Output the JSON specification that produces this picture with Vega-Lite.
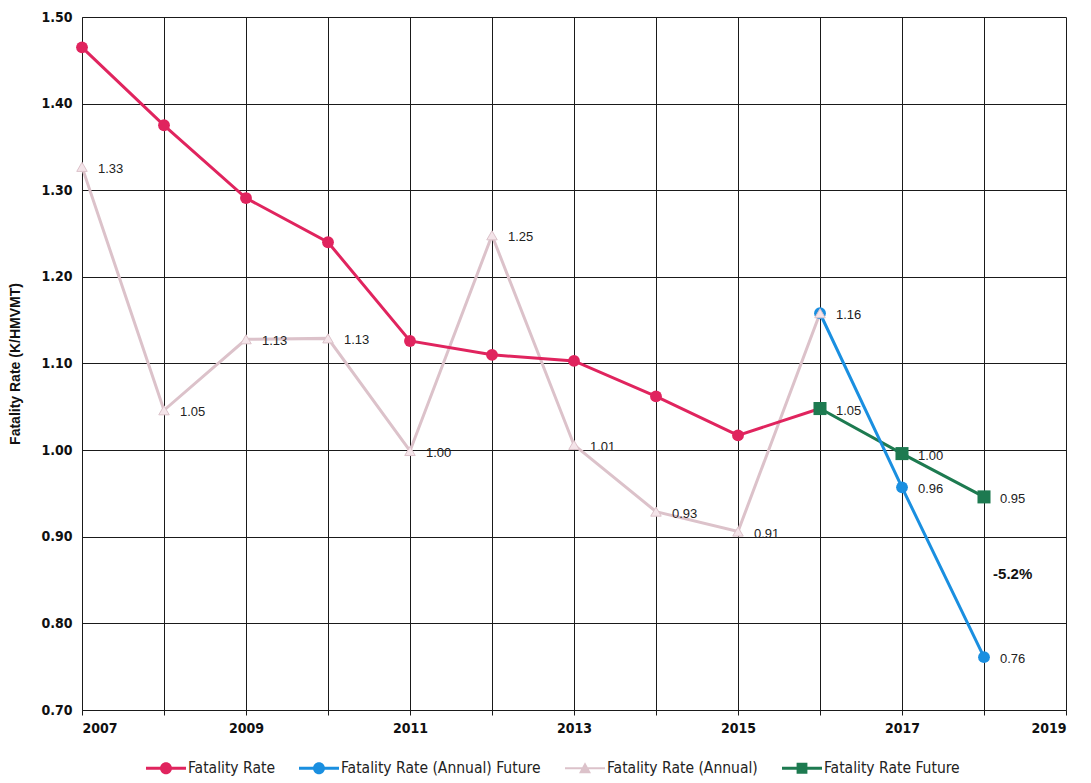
{
  "$schema": "https://vega.github.io/schema/vega-lite/v6.json",
  "width": 984,
  "height": 693,
  "autosize": {"type": "none"},
  "padding": {"left": 82, "top": 17, "right": 25, "bottom": 73},
  "background": "white",
  "config": {
    "view": {"stroke": null},
    "font": "Liberation Sans",
    "axis": {
      "gridColor": "#1a1a1a",
      "gridOpacity": 1,
      "gridWidth": 1,
      "domainColor": "#1a1a1a",
      "tickColor": "#1a1a1a",
      "labelColor": "#111111",
      "labelFont": "DejaVu Sans Condensed, Liberation Sans",
      "labelFontSize": 14,
      "labelFontWeight": "bold"
    }
  },
  "data": {
    "values": [
      {"series": "Fatality Rate", "year": 2007, "value": 1.465},
      {"series": "Fatality Rate", "year": 2008, "value": 1.375},
      {"series": "Fatality Rate", "year": 2009, "value": 1.291},
      {"series": "Fatality Rate", "year": 2010, "value": 1.240},
      {"series": "Fatality Rate", "year": 2011, "value": 1.126},
      {"series": "Fatality Rate", "year": 2012, "value": 1.110},
      {"series": "Fatality Rate", "year": 2013, "value": 1.103},
      {"series": "Fatality Rate", "year": 2014, "value": 1.062},
      {"series": "Fatality Rate", "year": 2015, "value": 1.017},
      {"series": "Fatality Rate", "year": 2016, "value": 1.048},
      {"series": "Fatality Rate (Annual)", "year": 2007, "value": 1.327},
      {"series": "Fatality Rate (Annual)", "year": 2008, "value": 1.046},
      {"series": "Fatality Rate (Annual)", "year": 2009, "value": 1.128},
      {"series": "Fatality Rate (Annual)", "year": 2010, "value": 1.129},
      {"series": "Fatality Rate (Annual)", "year": 2011, "value": 0.999},
      {"series": "Fatality Rate (Annual)", "year": 2012, "value": 1.248},
      {"series": "Fatality Rate (Annual)", "year": 2013, "value": 1.006},
      {"series": "Fatality Rate (Annual)", "year": 2014, "value": 0.929},
      {"series": "Fatality Rate (Annual)", "year": 2015, "value": 0.906},
      {"series": "Fatality Rate (Annual)", "year": 2016, "value": 1.158},
      {"series": "Fatality Rate Future", "year": 2016, "value": 1.048},
      {"series": "Fatality Rate Future", "year": 2017, "value": 0.996},
      {"series": "Fatality Rate Future", "year": 2018, "value": 0.946},
      {"series": "Fatality Rate (Annual) Future", "year": 2016, "value": 1.158},
      {"series": "Fatality Rate (Annual) Future", "year": 2017, "value": 0.957},
      {"series": "Fatality Rate (Annual) Future", "year": 2018, "value": 0.761}
    ]
  },
  "encoding": {
    "x": {
      "field": "year",
      "type": "quantitative",
      "scale": {"domain": [2007, 2019], "nice": false, "zero": false},
      "axis": {
        "values": [2007, 2008, 2009, 2010, 2011, 2012, 2013, 2014, 2015, 2016, 2017, 2018, 2019],
        "format": "d",
        "labelExpr": "datum.value % 2 == 1 ? datum.label : ''",
        "title": null,
        "grid": true,
        "tickSize": 5,
        "labelPadding": 6
      }
    },
    "y": {
      "field": "value",
      "type": "quantitative",
      "scale": {"domain": [0.7, 1.5], "nice": false, "zero": false},
      "axis": {
        "values": [0.7, 0.8, 0.9, 1.0, 1.1, 1.2, 1.3, 1.4, 1.5],
        "format": ".2f",
        "title": "Fatality Rate (K/HMVMT)",
        "titleFont": "Liberation Sans",
        "titleFontSize": 14,
        "titleFontWeight": "bold",
        "titleColor": "#111111",
        "titlePadding": 18,
        "grid": true,
        "ticks": false,
        "labelPadding": 10
      }
    },
    "color": {
      "field": "series",
      "type": "nominal",
      "scale": {
        "domain": ["Fatality Rate", "Fatality Rate (Annual) Future", "Fatality Rate (Annual)", "Fatality Rate Future"],
        "range": ["#e0245e", "#1a8fe0", "#dcc2ca", "#1d7a50"]
      },
      "legend": {
        "title": null,
        "orient": "none",
        "legendX": 64,
        "legendY": 731,
        "direction": "horizontal",
        "labelFont": "DejaVu Sans Condensed, Liberation Sans",
        "labelFontSize": 15.5,
        "labelColor": "#222222",
        "labelLimit": 0,
        "symbolSize": 1600,
        "columnPadding": 24,
        "labelOffset": 2,
        "encode": {"symbols": {"update": {"opacity": {"value": 1}, "strokeWidth": {"value": 0}}}}
      }
    }
  },
  "layer": [
    {
      "transform": [{"filter": "datum.series == 'Fatality Rate (Annual)'"}],
      "mark": {"type": "line", "strokeWidth": 3}
    },
    {
      "transform": [{"filter": "datum.series == 'Fatality Rate'"}],
      "mark": {"type": "line", "strokeWidth": 3}
    },
    {
      "transform": [{"filter": "datum.series == 'Fatality Rate Future'"}],
      "mark": {"type": "line", "strokeWidth": 3}
    },
    {
      "transform": [{"filter": "datum.series == 'Fatality Rate (Annual) Future'"}],
      "mark": {"type": "line", "strokeWidth": 3}
    },
    {
      "transform": [{"filter": "datum.series == 'Fatality Rate' || datum.series == 'Fatality Rate (Annual) Future'"}],
      "mark": {"type": "point", "shape": "circle", "filled": true, "size": 140, "opacity": 1}
    },
    {
      "transform": [{"filter": "datum.series == 'Fatality Rate (Annual)'"}],
      "mark": {"type": "point", "shape": "triangle-up", "filled": true, "size": 110, "opacity": 1, "fill": "#f4e4e9", "stroke": "#dcc2ca", "strokeWidth": 1}
    },
    {
      "transform": [{"filter": "datum.series == 'Fatality Rate Future'"}],
      "mark": {"type": "point", "shape": "square", "filled": true, "size": 170, "opacity": 1}
    },
    {
      "mark": {"type": "point", "filled": true, "size": 1600, "opacity": 0},
      "encoding": {
        "shape": {
          "field": "series",
          "type": "nominal",
          "scale": {
            "domain": ["Fatality Rate", "Fatality Rate (Annual) Future", "Fatality Rate (Annual)", "Fatality Rate Future"],
            "range": [
              "M-1,-0.075H1V0.075H-1Z M-0.3,0A0.3,0.3 0 1,1 0.3,0A0.3,0.3 0 1,1 -0.3,0Z",
              "M-1,-0.075H1V0.075H-1Z M-0.3,0A0.3,0.3 0 1,1 0.3,0A0.3,0.3 0 1,1 -0.3,0Z",
              "M-1,-0.05H1V0.05H-1Z M0,-0.3L0.3,0.25L-0.3,0.25Z",
              "M-1,-0.075H1V0.075H-1Z M-0.27,-0.27H0.27V0.27H-0.27Z"
            ]
          },
          "legend": {
            "title": null,
            "orient": "none",
            "legendX": 64,
            "legendY": 731,
            "direction": "horizontal",
            "labelFont": "DejaVu Sans Condensed, Liberation Sans",
            "labelFontSize": 15.5,
            "labelColor": "#222222",
            "labelLimit": 0,
            "symbolSize": 1600,
            "columnPadding": 24,
            "labelOffset": 2,
            "encode": {"symbols": {"update": {"opacity": {"value": 1}, "strokeWidth": {"value": 0}}}}
          }
        }
      }
    },
    {
      "transform": [{"filter": "datum.series != 'Fatality Rate' && !(datum.series == 'Fatality Rate (Annual)' && datum.year == 2016)"}],
      "mark": {"type": "text", "align": "left", "baseline": "middle", "dx": 16, "dy": 2, "fontSize": 13, "font": "Liberation Sans", "color": "#222222"},
      "encoding": {
        "text": {"field": "value", "type": "quantitative", "format": ".2f"},
        "color": {"value": "#222222"}
      }
    },
    {
      "data": {"values": [{"year": 2018.35, "value": 0.857, "note": "-5.2%"}]},
      "mark": {"type": "text", "align": "center", "baseline": "middle", "fontSize": 15, "fontWeight": "bold", "font": "Liberation Sans", "color": "#111111"},
      "encoding": {
        "text": {"field": "note", "type": "nominal"},
        "color": {"value": "#111111"}
      }
    }
  ]
}
